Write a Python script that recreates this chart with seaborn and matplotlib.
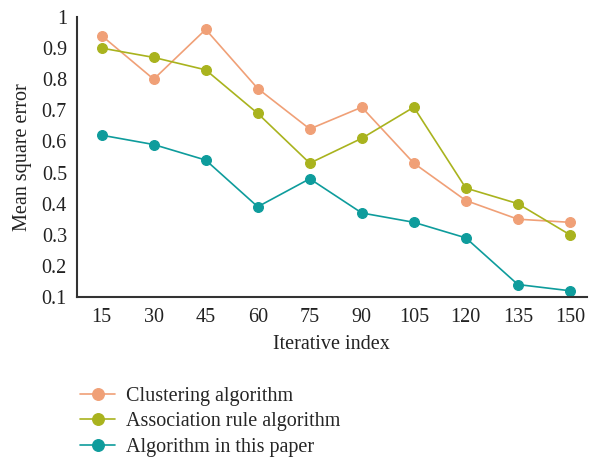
import matplotlib
matplotlib.use("Agg")
import matplotlib.pyplot as plt
import seaborn as sns
import pandas as pd

iterations = [15, 30, 45, 60, 75, 90, 105, 120, 135, 150]
clustering = [0.94, 0.80, 0.96, 0.77, 0.64, 0.71, 0.53, 0.41, 0.35, 0.34]
association = [0.90, 0.87, 0.83, 0.69, 0.53, 0.61, 0.71, 0.45, 0.40, 0.30]
this_paper = [0.62, 0.59, 0.54, 0.39, 0.48, 0.37, 0.34, 0.29, 0.14, 0.12]
series_names = ["Clustering algorithm", "Association rule algorithm", "Algorithm in this paper"]
colors = ["#F0A077", "#A9B31E", "#0E9C9C"]

rows = []
for name, vals in zip(series_names, [clustering, association, this_paper]):
    for it, v in zip(iterations, vals):
        rows.append({"Iterative index": str(it), "Mean square error": v, "series": name})
df = pd.DataFrame(rows)

sns.set_style("white")
plt.rcParams['font.family'] = ['Liberation Serif', 'DejaVu Serif']

FS = 14.5
fig = plt.figure(figsize=(5.9, 4.59), dpi=100)
ax = fig.add_axes([0.130, 0.353, 0.865, 0.610])

sns.pointplot(data=df, x="Iterative index", y="Mean square error", hue="series",
              order=[str(i) for i in iterations], hue_order=series_names,
              palette=colors, markers="o", linestyles="-", ax=ax,
              markersize=7, linewidth=1.2, errorbar=None)

ax.set_ylim(0.1, 1.0)
ax.set_yticks([0.1, 0.2, 0.3, 0.4, 0.5, 0.6, 0.7, 0.8, 0.9, 1.0])
ax.set_yticklabels(["0.1", "0.2", "0.3", "0.4", "0.5", "0.6", "0.7", "0.8", "0.9", "1"])
ax.set_xlim(-0.48, 9.33)
ax.tick_params(axis="y", length=0, labelsize=FS, colors="#222222", pad=7)
ax.tick_params(axis="x", length=0, labelsize=FS, colors="#222222", pad=8)
ax.set_xlabel("Iterative index", fontsize=FS, color="#222222", labelpad=6)
ax.set_ylabel("Mean square error", fontsize=FS, color="#222222", labelpad=7)
for s in ["top", "right"]:
    ax.spines[s].set_visible(False)
for s in ["left", "bottom"]:
    ax.spines[s].set_color("#333333")
    ax.spines[s].set_linewidth(1.5)

handles, labels = ax.get_legend_handles_labels()
ax.legend_.remove()
fig.legend(handles, labels, loc="upper left", bbox_to_anchor=(0.122, 0.175),
           frameon=False, fontsize=FS, handlelength=1.75, handletextpad=0.55,
           labelspacing=0.32, borderaxespad=0, markerscale=1.2)

fig.savefig("out.png", dpi=100)
